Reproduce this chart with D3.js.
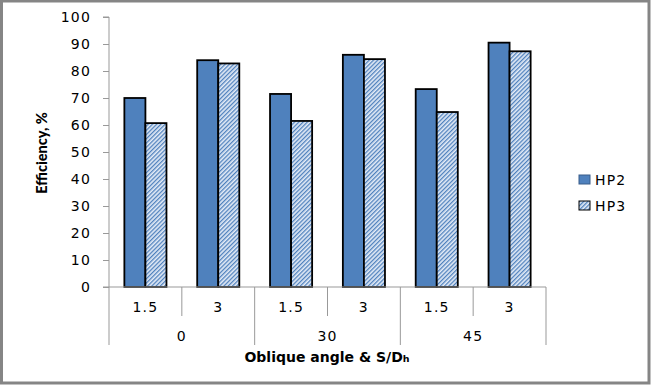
<!DOCTYPE html>
<html>
<head>
<meta charset="utf-8">
<script src="https://cdn.jsdelivr.net/npm/d3@7"></script>
<style>
  body { margin: 0; background: #fff; }
</style>
</head>
<body>
<svg id="chart" width="652" height="385"></svg>
<script>
const angles = ["0", "30", "45"];
const ratios = ["1.5", "3"];
const seriesNames = ["HP2", "HP3"];
const hp2 = [70, 84, 71.5, 86, 73.3, 90.5];
const hp3 = [60.7, 82.8, 61.5, 84.4, 64.8, 87.3];
const yTicks = [0, 10, 20, 30, 40, 50, 60, 70, 80, 90, 100];

const svg = d3.select("#chart");
const W = +svg.attr("width"), H = +svg.attr("height");

// outer frame
svg.append("rect").attr("x", 1.5).attr("y", 1).attr("width", W - 4.5).attr("height", H - 3)
    .attr("fill", "#fff").attr("stroke", "#858585").attr("stroke-width", 3);

// hatch pattern for HP3
const defs = svg.append("defs");
const pat = defs.append("pattern")
    .attr("id", "hatch")
    .attr("patternUnits", "userSpaceOnUse")
    .attr("width", 3).attr("height", 3)
    .attr("patternTransform", "rotate(45)");
pat.append("rect").attr("width", 3).attr("height", 3).attr("fill", "#e4ecf7");
pat.append("rect").attr("width", 1.3).attr("height", 3).attr("fill", "#4f81bd");

// one slot per angle/ratio pair
const slots = [];
angles.forEach(a => ratios.forEach(r => slots.push({ angle: a, ratio: r })));
const data = slots.map((s, i) => ({ ...s, key: i, values: [hp2[i], hp3[i]] }));

const pLeft = 109, pRight = 546, pTop = 17, pBottom = 287;

const x = d3.scaleBand().domain(data.map(d => d.key)).range([pLeft, pRight]).paddingInner(0).paddingOuter(0);
const xs = d3.scaleBand().domain(seriesNames).range([0, x.bandwidth()]).paddingInner(0).paddingOuter(0.73);
const y = d3.scaleLinear().domain([0, 100]).range([pBottom, pTop]);

const font = "DejaVu Sans, Verdana, sans-serif";
const fs = 14, ls = 1.2;

// y axis
const yAxis = svg.append("g").attr("transform", `translate(${pLeft},0)`)
    .call(d3.axisLeft(y).tickValues(yTicks).tickSize(6).tickPadding(12));
yAxis.select(".domain").attr("stroke", "#999").attr("d", `M-6,${pTop}H0V${pBottom}`);
yAxis.selectAll(".tick line").attr("stroke", "#999");
yAxis.selectAll("text").attr("font-family", font).attr("font-size", fs)
    .attr("letter-spacing", ls).attr("fill", "#000");

// bars
const fills = ["#4f81bd", "url(#hatch)"];
const g = svg.append("g");
data.forEach(d => {
    g.selectAll(null).data(d.values.map((v, j) => ({ v, j }))).enter().append("rect")
        .attr("x", e => x(d.key) + xs(seriesNames[e.j]))
        .attr("y", e => y(e.v))
        .attr("width", xs.bandwidth())
        .attr("height", e => pBottom - y(e.v))
        .attr("fill", e => fills[e.j])
        .attr("stroke", "#000")
        .attr("stroke-width", 1.8);
});

// category axis (two levels)
const ax = svg.append("g").attr("stroke", "#999").attr("stroke-width", 1);
ax.append("line").attr("x1", pLeft - 6).attr("x2", pRight).attr("y1", pBottom).attr("y2", pBottom);
ax.append("line").attr("x1", pLeft).attr("x2", pLeft).attr("y1", pBottom).attr("y2", 345);
data.forEach((d, i) => {
    const xe = x(d.key) + x.bandwidth();
    const long = i % 2 === 1;
    ax.append("line").attr("x1", xe).attr("x2", xe).attr("y1", pBottom).attr("y2", long ? 345 : 316);
});

svg.append("g").selectAll("text").data(data).enter().append("text")
    .attr("x", d => x(d.key) + x.bandwidth() / 2)
    .attr("y", 312)
    .attr("text-anchor", "middle")
    .attr("font-family", font).attr("font-size", fs).attr("letter-spacing", ls)
    .text(d => d.ratio);

svg.append("g").selectAll("text").data(angles).enter().append("text")
    .attr("x", (a, i) => x(i * 2) + x.bandwidth())
    .attr("y", 341)
    .attr("text-anchor", "middle")
    .attr("font-family", font).attr("font-size", fs).attr("letter-spacing", ls)
    .text(a => a);

// axis titles
const xt = svg.append("text")
    .attr("x", 327).attr("y", 362)
    .attr("text-anchor", "middle")
    .attr("font-family", font).attr("font-weight", "bold").attr("font-size", 14);
xt.append("tspan").text("Oblique angle & S/D");
xt.append("tspan").attr("font-size", 9.5).text("h");

svg.append("text")
    .attr("transform", "translate(47,153) rotate(-90)")
    .attr("text-anchor", "middle")
    .attr("font-family", "Lato, 'Liberation Sans', sans-serif").attr("font-weight", "900").attr("font-size", 14.5)
    .text("Efficiency, %");

// legend
const lg = svg.append("g").selectAll("g").data(seriesNames).enter().append("g")
    .attr("transform", (s, i) => `translate(579,${175 + i * 26})`);
lg.append("rect").attr("x", 0).attr("y", 0).attr("width", 11).attr("height", 9)
    .attr("fill", (s, i) => fills[i]).attr("stroke", (s, i) => i ? "#000" : "#385d8a").attr("stroke-width", 1);
lg.append("text").attr("x", 16).attr("y", 10)
    .attr("font-family", font).attr("font-size", fs).attr("letter-spacing", ls)
    .text(s => s);
</script>
</body>
</html>
